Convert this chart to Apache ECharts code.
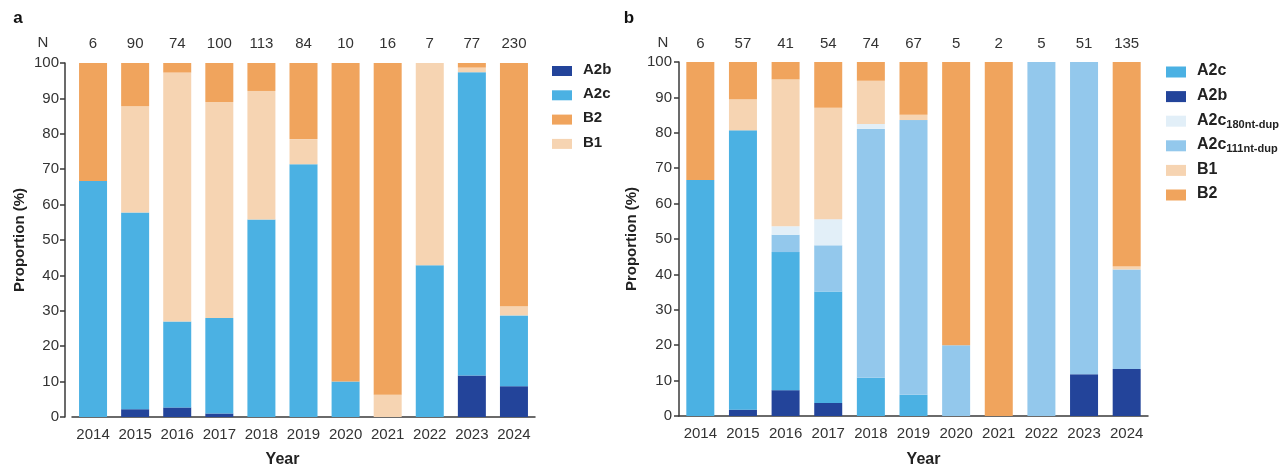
<!DOCTYPE html>
<html>
<head>
<meta charset="utf-8">
<script src="https://cdn.jsdelivr.net/npm/echarts@6/dist/echarts.min.js"></script>
<style>
  html, body { margin: 0; padding: 0; background: #fff; }
  #chart { width: 1284px; height: 473px; }
</style>
</head>
<body>
<div id="chart"></div>
<script>
// Sampling years shared by both panels
const years = ['2014', '2015', '2016', '2017', '2018', '2019', '2020', '2021', '2022', '2023', '2024'];

// Panel a: sample counts and genotype proportions (%)
const countsA = ['6', '90', '74', '100', '113', '84', '10', '16', '7', '77', '230'];
const aA2b = [0, 2.2, 2.7, 1.0, 0, 0, 0, 0, 0, 11.7, 8.7];
const aA2c = [66.7, 55.6, 24.3, 27.0, 55.8, 71.4, 10.0, 0, 42.9, 85.7, 20.0];
const aB1  = [0, 30.0, 70.3, 61.0, 36.3, 7.1, 0, 6.3, 57.1, 1.3, 2.6];
const aB2  = [33.3, 12.2, 2.7, 11.0, 7.9, 21.5, 90.0, 93.7, 0, 1.3, 68.7];

// Panel b: sample counts and genotype proportions (%)
const countsB = ['6', '57', '41', '54', '74', '67', '5', '2', '5', '51', '135'];
const bA2b    = [0, 1.8, 7.3, 3.7, 0, 0, 0, 0, 0, 11.8, 13.3];
const bA2c    = [66.7, 78.9, 39.0, 31.5, 10.8, 6.0, 0, 0, 0, 0, 0];
const bA2c111 = [0, 0, 4.9, 13.0, 70.3, 77.6, 20.0, 0, 100, 88.2, 28.1];
const bA2c180 = [0, 0, 2.4, 7.4, 1.4, 0, 0, 0, 0, 0, 0];
const bB1     = [0, 8.8, 41.5, 31.5, 12.2, 1.5, 0, 0, 0, 0, 0.8];
const bB2     = [33.3, 10.5, 4.9, 12.9, 5.3, 14.9, 80.0, 100, 0, 0, 57.8];

const COLORS = {
  'A2b': '#23449A',
  'A2c': '#4BB1E3',
  'A2c_111nt-dup': '#93C8EC',
  'A2c_180nt-dup': '#E2EFF8',
  'B1': '#F6D4B2',
  'B2': '#F0A45D'
};

const FONT = '"Liberation Sans", Arial, Helvetica, sans-serif';
const AXIS_COLOR = '#3a3a3a';
const TEXT_COLOR = '#333';

function legendLabel(name) {
  const parts = name.split('_');
  if (parts.length === 2) return '{m|' + parts[0] + '}{s|' + parts[1] + '}';
  return '{m|' + name + '}';
}

function bottomXAxis(gridIndex, padding, gap) {
  return {
    type: 'category', gridIndex: gridIndex, data: years, position: 'bottom',
    axisLine: { lineStyle: { color: AXIS_COLOR, width: 1.5 } },
    axisTick: { alignWithLabel: true, length: 5, lineStyle: { color: AXIS_COLOR, width: 1.5 } },
    axisLabel: { interval: 0, fontFamily: FONT, fontSize: 15, color: TEXT_COLOR, margin: 10 },
    name: 'Year', nameLocation: 'middle', nameGap: gap,
    nameTextStyle: { fontFamily: FONT, fontSize: 16, fontWeight: 'bold', color: '#222', padding: padding }
  };
}

// Sample sizes printed above each bar
function topXAxis(gridIndex, counts, margin) {
  return {
    type: 'category', gridIndex: gridIndex, data: counts, position: 'top',
    axisLine: { show: false }, axisTick: { show: false },
    axisLabel: { interval: 0, fontFamily: FONT, fontSize: 15, color: TEXT_COLOR, margin: margin }
  };
}

function yAxis(gridIndex, offset, labelMargin, nameGap) {
  return {
    type: 'value', gridIndex: gridIndex, min: 0, max: 100, interval: 10, offset: offset,
    splitLine: { show: false },
    axisLine: { show: true, lineStyle: { color: AXIS_COLOR, width: 1.5 } },
    axisTick: { show: true, length: 5, lineStyle: { color: AXIS_COLOR, width: 1.5 } },
    axisLabel: { fontFamily: FONT, fontSize: 15, color: TEXT_COLOR, margin: labelMargin },
    name: 'Proportion (%)', nameLocation: 'middle', nameGap: nameGap,
    nameTextStyle: { fontFamily: FONT, fontSize: 15, fontWeight: 'bold', color: '#222' }
  };
}

function barSeries(name, data, axisIndex, stack) {
  return {
    type: 'bar', name: name, data: data, stack: stack,
    xAxisIndex: axisIndex, yAxisIndex: axisIndex,
    barWidth: 28, itemStyle: { color: COLORS[name] },
    emphasis: { disabled: true }
  };
}

function legendRich(size) {
  return {
    m: { fontFamily: FONT, fontSize: size, fontWeight: 'bold', color: '#222', lineHeight: 18, verticalAlign: 'top', padding: [0, 0, 0, 6] },
    s: { fontFamily: FONT, fontSize: 11, fontWeight: 'bold', color: '#222', lineHeight: 12, verticalAlign: 'bottom' }
  };
}

function label(text, x, y, size, bold) {
  return {
    type: 'text', x: x, y: y,
    style: {
      text: text, fontFamily: FONT, fontSize: size, fontWeight: bold ? 'bold' : 'normal',
      fill: bold ? '#111' : TEXT_COLOR, align: 'center', verticalAlign: 'middle'
    }
  };
}

const option = {
  animation: false,
  backgroundColor: '#fff',
  grid: [
    { left: 72, width: 463, top: 63, bottom: 51 },
    { left: 679, width: 469, top: 62, bottom: 50 }
  ],
  xAxis: [
    bottomXAxis(0, [0, 42, 0, 0], 35),
    bottomXAxis(1, [0, 0, 0, 20], 36),
    topXAxis(0, countsA, 12),
    topXAxis(1, countsB, 11)
  ],
  yAxis: [
    yAxis(0, 7, 6, 38),
    yAxis(1, 0, 7, 40)
  ],
  legend: [
    {
      orient: 'vertical', left: 547, top: 57, itemWidth: 20, itemHeight: 10, itemGap: 9.3,
      icon: 'rect', selectedMode: false,
      data: ['A2b', 'A2c', 'B2', 'B1'],
      formatter: legendLabel,
      textStyle: { rich: legendRich(15) }
    },
    {
      orient: 'vertical', left: 1161, top: 58, itemWidth: 20, itemHeight: 11, itemGap: 6.6,
      icon: 'rect', selectedMode: false,
      data: ['A2c', 'A2b', 'A2c_180nt-dup', 'A2c_111nt-dup', 'B1', 'B2'],
      formatter: legendLabel,
      textStyle: { lineHeight: 21, rich: legendRich(16) }
    }
  ],
  graphic: [
    label('a', 18, 18, 17, true),
    label('b', 629, 18, 17, true),
    label('N', 43, 43, 15, false),
    label('N', 663, 43, 15, false)
  ],
  series: [
    barSeries('A2b', aA2b, 0, 'a'),
    barSeries('A2c', aA2c, 0, 'a'),
    barSeries('B1', aB1, 0, 'a'),
    barSeries('B2', aB2, 0, 'a'),
    barSeries('A2b', bA2b, 1, 'b'),
    barSeries('A2c', bA2c, 1, 'b'),
    barSeries('A2c_111nt-dup', bA2c111, 1, 'b'),
    barSeries('A2c_180nt-dup', bA2c180, 1, 'b'),
    barSeries('B1', bB1, 1, 'b'),
    barSeries('B2', bB2, 1, 'b')
  ]
};

const chart = echarts.init(document.getElementById('chart'), null, { renderer: 'canvas' });
chart.setOption(option);
</script>
</body>
</html>
